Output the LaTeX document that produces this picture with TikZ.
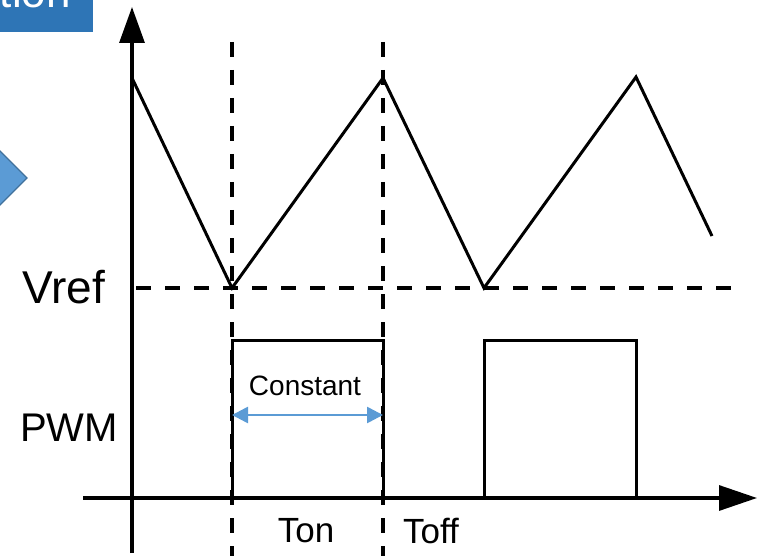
\documentclass[tikz,border=0pt]{standalone}
\usepackage{fontspec}
\setmainfont{Liberation Sans}
\usetikzlibrary{arrows.meta}
\definecolor{boxblue}{HTML}{2E75B6}
\definecolor{chevfill}{HTML}{5B9BD5}
\definecolor{chevline}{HTML}{41719C}
\definecolor{arrblue}{HTML}{5B9BD5}
\begin{document}
\begin{tikzpicture}[x=1pt,y=-1pt,
  axis/.style={line width=3.2pt, black},
  wave/.style={line width=3pt, black, line join=miter},
  vdash/.style={line width=3.8pt, black, dash pattern=on 15pt off 13pt},
  hdash/.style={line width=3.2pt, black, dash pattern=on 15pt off 14pt},
  lbl/.style={inner sep=0pt, text=black}]
\useasboundingbox (0,0) rectangle (760,556);
\clip (0,0) rectangle (760,556);
% title box (cut off)
\fill[boxblue] (-10,-10) rectangle (93,32);
\node[lbl, anchor=base east, text=white, font=\fontsize{44}{50}\selectfont] (title) at (71,8) {tion};
% chevron
\draw[chevline, fill=chevfill, line width=1.2pt] (-20,150) -- (-1,150) -- (27,178) -- (-1,206) -- (-20,206) -- cycle;
% coordinates
\coordinate (ybot) at (132,553);
\coordinate (ytop) at (132,7);
\coordinate (xl) at (83,498);
\coordinate (xr) at (757,498);
\coordinate (p0) at (132,78);
\coordinate (v1) at (232,288);
\coordinate (p1) at (383,78);
\coordinate (v2) at (484,288);
\coordinate (p2) at (636,77);
\coordinate (e2) at (712,236);
\coordinate (r0) at (136,288);
\coordinate (r1) at (742,288);
\coordinate (d1t) at (232,42);
\coordinate (d1b) at (232,556);
\coordinate (d2t) at (383,42);
\coordinate (d2b) at (383,556);
\coordinate (a1) at (232,498);
\coordinate (a2) at (232,340);
\coordinate (a3) at (383,340);
\coordinate (a4) at (383,498);
\coordinate (b1) at (484,498);
\coordinate (b2) at (484,340);
\coordinate (b3) at (636,340);
\coordinate (b4) at (636,498);
\coordinate (c1) at (232,415);
\coordinate (c2) at (383,415);
% axes
\draw[axis, -{Triangle[length=36pt,width=25pt]}] (ybot) -- (ytop);
\draw[axis, -{Triangle[length=38pt,width=25pt]}] (xl) -- (xr);
% triangle wave
\draw[wave] (p0) -- (v1) -- (p1) -- (v2) -- (p2) -- (e2);
% Vref dashed line
\draw[hdash] (r0) -- (r1);
% PWM pulses
\draw[wave] (a1) -- (a2) -- (a3) -- (a4);
\draw[wave] (b1) -- (b2) -- (b3) -- (b4);
% vertical dashed lines
\draw[vdash] (d1t) -- (d1b);
\draw[vdash] (d2t) -- (d2b);
% constant arrow
\draw[arrblue, line width=2.6pt, {Triangle[length=16pt,width=16pt]}-{Triangle[length=16pt,width=16pt]}] (c1) -- (c2);
% labels
\node[lbl, anchor=base, font=\fontsize{28}{34}\selectfont] (const) at (305,395) {Constant};
\node[lbl, anchor=base west, font=\fontsize{46}{54}\selectfont] (vref) at (22,303) {Vref};
\node[lbl, anchor=base west, font=\fontsize{40}{48}\selectfont] (pwm) at (20,441) {PWM};
\node[lbl, anchor=base, font=\fontsize{35}{42}\selectfont] (ton) at (306,542) {Ton};
\node[lbl, anchor=base, font=\fontsize{35}{42}\selectfont] (toff) at (431,543) {Toff};
\end{tikzpicture}
\end{document}
